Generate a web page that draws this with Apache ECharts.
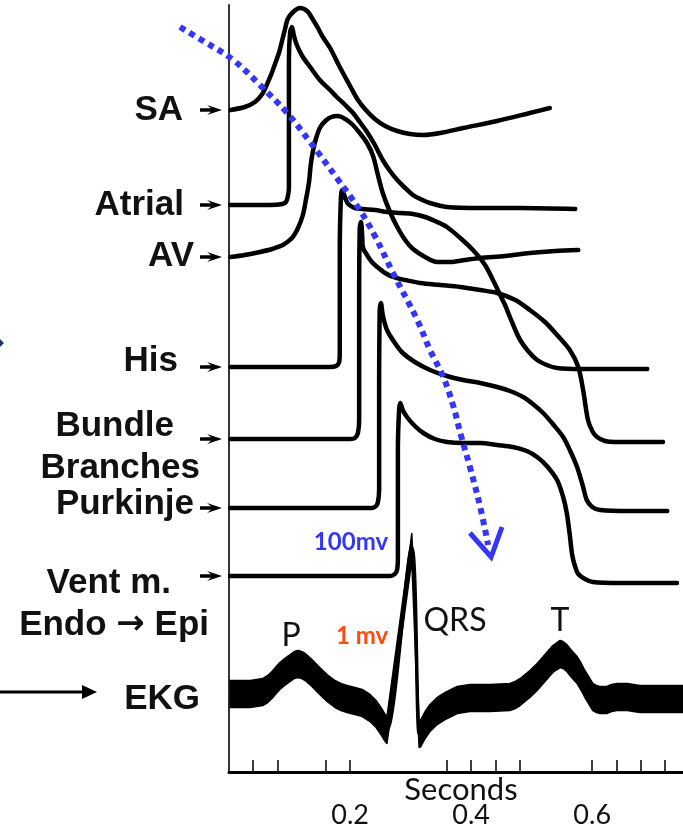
<!DOCTYPE html>
<html>
<head>
<meta charset="utf-8">
<script src="https://cdn.jsdelivr.net/npm/echarts@6.0.0/dist/echarts.min.js"></script>
<style>
  html, body { margin: 0; padding: 0; background: #ffffff; }
  #chart { width: 683px; height: 828px; }
</style>
</head>
<body>
<div id="chart"></div>
<script>
// ---------------- DATA (time in seconds, potential in figure units above the time axis) ----------------
const traceNames = ['SA', 'Atrial', 'AV', 'His', 'Bundle Branches', 'Purkinje', 'Vent m.', 'EKG'];

const saTrace = [[0.003,662],[0.026,665],[0.043,670],[0.055,678],[0.063,688],[0.070,698],[0.076,708],[0.083,720],[0.088,732],[0.093,744],[0.097,753],[0.106,760],[0.117,764],[0.129,761],[0.139,752],[0.147,744],[0.155,735],[0.167,724],[0.183,705],[0.200,686],[0.213,672],[0.226,662],[0.241,653],[0.258,646],[0.278,641],[0.299,638],[0.321,637],[0.349,639],[0.387,644],[0.443,651],[0.497,659],[0.530,664]];

const atrialTrace = [[0.002,567],[0.068,567],[0.088,568],[0.094,570],[0.097,575],[0.099,584],[0.099,712],[0.101,740],[0.104,745],[0.107,737],[0.112,727],[0.122,715],[0.134,705],[0.150,692],[0.167,682],[0.178,675],[0.192,667],[0.205,659],[0.216,650],[0.228,640],[0.241,627],[0.254,612],[0.266,601],[0.278,592],[0.291,584],[0.304,577],[0.316,573],[0.332,569],[0.360,565],[0.415,564],[0.481,564],[0.572,563]];

const avTrace = [[0.002,515],[0.026,517],[0.051,520],[0.071,523],[0.089,527],[0.104,534],[0.114,544],[0.122,557],[0.127,572],[0.132,589],[0.135,607],[0.139,622],[0.144,634],[0.150,644],[0.159,651],[0.169,655],[0.180,656],[0.192,653],[0.203,648],[0.216,639],[0.228,629],[0.238,616],[0.246,597],[0.254,579],[0.266,560],[0.278,545],[0.291,532],[0.304,523],[0.324,515],[0.344,510],[0.365,510],[0.390,512],[0.415,514],[0.456,516],[0.497,519],[0.539,521],[0.577,522]];

const hisTrace = [[0.002,405],[0.167,405],[0.177,406],[0.182,410],[0.183,420],[0.183,522],[0.185,576],[0.187,582],[0.192,574],[0.197,568],[0.208,564],[0.221,563],[0.241,562],[0.261,560],[0.283,559],[0.304,558],[0.324,555],[0.344,550],[0.360,545],[0.382,534],[0.403,522],[0.423,507],[0.436,492],[0.448,477],[0.456,467],[0.464,455],[0.473,442],[0.481,432],[0.494,421],[0.509,412],[0.525,407],[0.542,404],[0.580,403],[0.629,403],[0.691,403]];

const bundleTrace = [[0.002,333],[0.200,333],[0.208,334],[0.213,339],[0.215,352],[0.215,472],[0.216,544],[0.218,550],[0.220,537],[0.221,525],[0.228,517],[0.236,510],[0.245,505],[0.258,499],[0.271,495],[0.291,492],[0.316,489],[0.349,487],[0.382,485],[0.415,482],[0.443,479],[0.473,472],[0.497,462],[0.522,450],[0.542,437],[0.563,422],[0.577,405],[0.585,382],[0.593,352],[0.601,340],[0.608,335],[0.621,331],[0.638,330],[0.679,330],[0.717,330]];

const purkinjeTrace = [[0.002,264],[0.236,264],[0.243,266],[0.246,270],[0.248,282],[0.248,372],[0.249,462],[0.251,469],[0.254,457],[0.261,442],[0.274,429],[0.287,419],[0.307,410],[0.332,402],[0.360,396],[0.387,392],[0.415,389],[0.443,385],[0.464,381],[0.486,375],[0.502,368],[0.519,359],[0.535,348],[0.552,335],[0.563,322],[0.575,305],[0.585,285],[0.591,272],[0.600,265],[0.613,262],[0.662,261],[0.724,261]];

const ventTrace = [[0.002,196],[0.266,196],[0.274,198],[0.278,203],[0.279,217],[0.279,322],[0.281,362],[0.283,369],[0.287,362],[0.294,355],[0.307,346],[0.321,339],[0.340,333],[0.360,330],[0.387,329],[0.415,329],[0.443,327],[0.469,325],[0.492,321],[0.509,315],[0.525,306],[0.542,292],[0.552,275],[0.558,259],[0.563,237],[0.567,217],[0.572,205],[0.577,198],[0.588,193],[0.601,190],[0.646,189],[0.696,189],[0.740,189]];

// EKG centre line (P wave, QRS, T wave)
const ekgTrace = [[0.002,78],[0.035,78],[0.056,80],[0.064,83],[0.071,87],[0.078,92],[0.084,96],[0.092,100],[0.101,104],[0.108,107],[0.114,108],[0.120,107],[0.126,105],[0.137,99],[0.150,91],[0.162,84],[0.175,78],[0.185,75],[0.195,73],[0.208,71],[0.220,69],[0.233,64],[0.243,58],[0.251,51],[0.258,44],[0.261,42],[0.302,225],[0.314,38],[0.317,39],[0.324,47],[0.332,54],[0.344,61],[0.357,66],[0.377,72],[0.398,74],[0.431,74],[0.464,75],[0.473,77],[0.481,80],[0.489,84],[0.497,88],[0.509,95],[0.522,104],[0.535,113],[0.542,116],[0.547,118],[0.552,117],[0.558,114],[0.566,108],[0.575,102],[0.582,95],[0.588,88],[0.595,81],[0.601,75],[0.607,73],[0.613,72],[0.624,72],[0.632,74],[0.641,75],[0.658,75],[0.668,74],[0.679,73],[0.712,73],[0.750,73]];

// propagation path (blue dotted arrow)
const propagationPath = [[-0.081,745],[-0.040,730],[0.007,712],[0.051,687],[0.096,659],[0.134,630],[0.178,594],[0.216,562],[0.241,536],[0.271,499],[0.311,452],[0.332,422],[0.354,395],[0.370,367],[0.383,337],[0.398,305],[0.415,265],[0.428,227]];
const propagationHead = [[0.398,239],[0.433,215],[0.451,245]];

const xTickValues = [0.04, 0.08, 0.16, 0.2, 0.36, 0.4, 0.44, 0.48, 0.6, 0.64, 0.68, 0.72];
const xLabelValues = [0.2, 0.4, 0.6];

// ---------------- STYLE ----------------
const EKG_HALF = 13.5;
const BLUE = '#3535f5';
const LABEL_FONT = 'bold 35px "Liberation Sans", Arial, sans-serif';
const ARROW_PATH = 'path://M0,3.3L11,3.3L7,0L22,5L7,10L11,6.7L0,6.7Z';

function traceSeries(name, data) {
  return {
    name: name, type: 'line', data: data, showSymbol: false, smooth: 0.3,
    lineStyle: { color: '#000', width: 4.5, join: 'round', cap: 'round' },
    z: 3,
    markPoint: {
      symbol: ARROW_PATH, symbolSize: [22, 10], symbolOffset: [-18, 0],
      itemStyle: { color: '#000' }, label: { show: false },
      data: [{ coord: [0, data[0][1]] }]
    }
  };
}

const series = [
  traceSeries(traceNames[0], saTrace),
  traceSeries(traceNames[1], atrialTrace),
  traceSeries(traceNames[2], avTrace),
  traceSeries(traceNames[3], hisTrace),
  traceSeries(traceNames[4], bundleTrace),
  traceSeries(traceNames[5], purkinjeTrace),
  traceSeries(traceNames[6], ventTrace),
  {
    name: 'EKG', type: 'custom', coordinateSystem: 'cartesian2d', data: ekgTrace, z: 3,
    renderItem: function (params, api) {
      if (params.dataIndex !== 0) return null;
      const upper = ekgTrace.map(p => api.coord([p[0], p[1] + EKG_HALF]));
      const lower = ekgTrace.map(p => api.coord([p[0], p[1] - EKG_HALF])).reverse();
      return { type: 'polygon', shape: { points: upper.concat(lower) },
        style: { fill: '#000', stroke: '#000', lineWidth: 1.5, lineJoin: 'round' } };
    }
  },
  { name: 'EKG line', type: 'line', data: ekgTrace, showSymbol: false, smooth: 0.3,
    lineStyle: { color: '#000', width: 3.5 }, z: 3 },
  {
    name: 'propagation', type: 'custom', coordinateSystem: 'cartesian2d', data: propagationPath, clip: false, z: 5,
    renderItem: function (params, api) {
      if (params.dataIndex !== 0) return null;
      const pts = propagationPath.map(p => api.coord(p));
      return { type: 'polyline', shape: { points: pts, smooth: 0.4 },
        style: { stroke: BLUE, lineWidth: 6, lineDash: [6, 5], lineCap: 'butt', fill: null } };
    }
  },
  { name: 'propagation head', type: 'line', data: propagationHead, showSymbol: false, clip: false,
    lineStyle: { color: BLUE, width: 5, join: 'miter' }, z: 5 }
];

function label(text, x, y) {
  return { type: 'text', x: x, y: y, z: 10,
    style: { text: text, font: LABEL_FONT, fill: '#111', align: 'right', verticalAlign: 'middle' } };
}
function plain(text, x, y, font, color) {
  return { type: 'text', x: x, y: y, z: 10,
    style: { text: text, font: font, fill: color, align: 'center', verticalAlign: 'middle' } };
}

const graphic = [
  label('SA', 183, 110),
  label('Atrial', 184, 205),
  label('AV', 194, 256),
  label('His', 178, 361),
  label('Bundle', 174, 426),
  label('Branches', 200, 468),
  label('Purkinje', 194, 504),
  label('Vent m.', 171, 583),
  { type: 'text', x: 209, y: 625, z: 10,
    style: { text: 'Endo {a|\u2192} Epi', font: LABEL_FONT, fill: '#111', align: 'right', verticalAlign: 'middle',
      rich: { a: { font: 'bold 34px "DejaVu Sans", sans-serif', fill: '#111' } } } },
  label('EKG', 200, 699),
  plain('100mv', 351, 542, 'bold 24px Lato, sans-serif', BLUE),
  plain('1 mv', 362, 636, 'bold 24px Lato, sans-serif', '#ff4a12'),
  plain('P', 291, 636, '32px Lato, sans-serif', '#111'),
  plain('QRS', 455, 621, '32px Lato, sans-serif', '#111'),
  plain('T', 560, 621, '32px Lato, sans-serif', '#111'),
  { type: 'line', z: 10, shape: { x1: 0, y1: 692, x2: 85, y2: 692 }, style: { stroke: '#000', lineWidth: 3 } },
  { type: 'polygon', z: 10, shape: { points: [[82, 685], [97, 692], [82, 699]] }, style: { fill: '#000' } },
  { type: 'polygon', z: 10, shape: { points: [[0, 339], [4, 343], [0, 347]] }, style: { fill: '#1f3a6e' } }
];

const chart = echarts.init(document.getElementById('chart'), null, { renderer: 'canvas' });
chart.setOption({
  animation: false,
  backgroundColor: '#ffffff',
  grid: { left: 229, right: 0, top: 5, bottom: 56, containLabel: false, outerBoundsMode: 'none' },
  xAxis: {
    type: 'value', min: 0, max: 0.75,
    name: 'Seconds', nameLocation: 'middle', nameGap: 2, nameMoveOverlap: false,
    nameTextStyle: { fontFamily: 'Lato, sans-serif', fontSize: 31, color: '#111', verticalAlign: 'top', padding: [0, 0, 0, 10] },
    axisLine: { show: true, lineStyle: { color: '#000', width: 3 } },
    axisTick: { show: true, inside: true, length: 12, customValues: xTickValues, lineStyle: { color: '#000', width: 1.5 } },
    axisLabel: { show: true, customValues: xLabelValues, margin: 30, fontFamily: 'Lato, sans-serif', fontSize: 27, color: '#111',
      formatter: v => v.toFixed(1) },
    splitLine: { show: false }
  },
  yAxis: {
    type: 'value', min: 0, max: 767,
    axisLine: { show: true, lineStyle: { color: '#333', width: 2 } },
    axisTick: { show: false }, axisLabel: { show: false }, splitLine: { show: false }
  },
  series: series,
  graphic: graphic
});
</script>
</body>
</html>
